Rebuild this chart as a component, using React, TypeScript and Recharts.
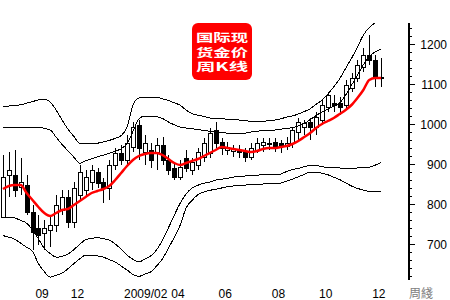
import React from "react";
import { Bar, ComposedChart, Line, XAxis, YAxis } from "recharts";

// weekly gold candles, 2008/09 .. 2009/12
const opens = [767, 872, 872, 842, 847, 780, 740, 727, 735, 747, 785, 817, 755, 822, 835, 855, 880, 855, 840, 897, 927, 910, 942, 997, 930, 935, 930, 947, 910, 890, 867, 915, 885, 897, 917, 927, 985, 955, 935, 932, 935, 932, 917, 935, 947, 952, 955, 952, 945, 952, 980, 992, 1005, 992, 1010, 1042, 1052, 1052, 1047, 1090, 1115, 1142, 1172, 1160, 1117];
const highs = [922, 930, 935, 915, 872, 797, 772, 760, 772, 822, 835, 835, 855, 897, 885, 897, 890, 865, 910, 940, 947, 972, 1005, 1010, 972, 952, 965, 967, 922, 905, 910, 935, 915, 940, 965, 990, 1005, 965, 955, 947, 947, 940, 952, 965, 965, 965, 965, 960, 967, 992, 1015, 1010, 1015, 1030, 1060, 1080, 1072, 1067, 1110, 1127, 1160, 1190, 1222, 1172, 1165];
const lows = [765, 817, 817, 822, 772, 685, 697, 685, 692, 730, 772, 740, 740, 810, 822, 835, 840, 802, 810, 885, 897, 897, 930, 910, 897, 890, 885, 897, 872, 860, 860, 880, 872, 885, 905, 915, 940, 922, 922, 917, 915, 905, 910, 927, 930, 935, 930, 927, 935, 940, 960, 972, 960, 972, 997, 1030, 1030, 1022, 1040, 1080, 1105, 1130, 1147, 1092, 1092];
const closes = [867, 885, 835, 855, 780, 730, 722, 740, 747, 797, 817, 755, 840, 880, 867, 885, 852, 840, 897, 927, 910, 952, 992, 940, 952, 910, 947, 910, 885, 867, 892, 890, 905, 930, 952, 977, 952, 940, 942, 937, 930, 917, 940, 952, 955, 950, 945, 945, 952, 985, 1005, 1002, 992, 1017, 1047, 1072, 1047, 1042, 1097, 1115, 1147, 1172, 1160, 1115, 1115];

const ma = [837.5, 845, 847.5, 847.5, 827.5, 810, 792.5, 777.5, 770, 777.5, 785, 787.5, 797.5, 807.5, 817.5, 827.5, 832.5, 837.5, 845, 860, 877.5, 895, 910, 920, 925, 927.5, 927.5, 922.5, 912.5, 902.5, 897.5, 902.5, 907.5, 912.5, 920, 927.5, 935, 942.5, 940, 937.5, 935, 932.5, 930, 932.5, 937.5, 940, 940, 942.5, 945, 950, 957.5, 967.5, 977.5, 990, 1000, 1007.5, 1015, 1025, 1035, 1047.5, 1065, 1085, 1110, 1115, 1115];
const upperOuter = [1043, 1045, 1046, 1048, 1052, 1056, 1060, 1062, 1055, 1035, 1010, 987, 969, 952, 951, 950, 952, 955, 959, 964, 971, 992, 1047, 1065, 1067, 1067, 1067, 1063, 1059, 1053, 1047, 1035, 1026, 1022, 1019, 1015, 1014, 1013, 1012, 1011, 1010, 1008, 1007, 1005, 1007, 1008, 1010, 1013, 1017, 1020, 1025, 1031, 1038, 1049, 1060, 1075, 1093, 1113, 1139, 1164, 1192, 1222, 1241, 1253, 1259];
const upperInner = [990, 991, 992, 992, 992, 992, 992, 989, 985, 967, 949, 933, 917, 902, 908, 913, 918, 922, 927, 932, 938, 951, 981, 1012, 1020, 1019, 1018, 1014, 1005, 998, 992, 990, 988, 986, 984, 982, 980, 979, 977, 976, 975, 977, 980, 982, 983, 984, 985, 987, 989, 991, 995, 1001, 1011, 1021, 1030, 1037, 1045, 1053, 1072, 1097, 1122, 1148, 1169, 1180, 1188];
const lowerInner = [767, 767, 765, 759, 752, 735, 713, 689, 676, 667, 669, 675, 686, 699, 711, 714, 716, 713, 710, 700, 687, 672, 662, 655, 662, 670, 685, 710, 740, 772, 802, 825, 840, 847, 852, 855, 860, 862, 864, 867, 870, 870, 871, 872, 873, 873, 874, 875, 881, 886, 889, 893, 896, 896, 893, 892, 891, 890, 890, 890, 890, 891, 892, 897, 904];
const lowerOuter = [721, 717, 712, 702, 692, 682, 651, 631, 617, 622, 627, 638, 651, 663, 672, 671, 670, 667, 661, 655, 645, 635, 624, 619, 625, 630, 645, 663, 689, 717, 747, 790, 809, 823, 830, 834, 837, 840, 843, 845, 846, 847, 849, 849, 850, 851, 851, 852, 857, 862, 868, 874, 880, 879, 877, 873, 867, 861, 853, 845, 839, 835, 831, 830, 832];

const xTickIndex = [6, 12, 21, 29, 37, 46, 54, 63];
const xTickText = ["09", "12", "2009/02", "04", "06", "08", "10", "12"];
const yLabels = [700, 800, 900, 1000, 1100, 1200];
const yTicks = [620, 640, 660, 680, 700, 720, 740, 760, 780, 800, 820, 840, 860, 880, 900, 920, 940, 960, 980, 1000, 1020, 1040, 1060, 1080, 1100, 1120, 1140, 1160, 1180, 1200, 1220, 1240];
const titleRows = ["国际现", "货金价", "周K线"];

const data = opens.map((o, i) => ({
  idx: i,
  open: o,
  high: highs[i],
  low: lows[i],
  close: closes[i],
  range: [lows[i], highs[i]],
  ma: ma[i],
  up2: upperOuter[i],
  up1: upperInner[i],
  lo1: lowerInner[i],
  lo2: lowerOuter[i],
}));

const font = "'Liberation Sans', Arial, sans-serif";

function Candle(props: any) {
  const { x, y, width, height, payload } = props;
  if (!payload) return <g />;
  const { open, close, high, low } = payload;
  const top = Math.min(y, y + height);
  const h = Math.abs(height);
  const cx = Math.round(x + width / 2) + 0.5;
  const ratio = h / (high - low || 1);
  const py = (v: number) => top + (high - v) * ratio;
  const bTop = Math.round(py(Math.max(open, close)));
  const bBot = Math.round(py(Math.min(open, close)));
  const up = close >= open;
  return (
    <g shapeRendering="crispEdges">
      <line x1={cx} x2={cx} y1={Math.round(top)} y2={Math.round(top + h)} stroke="#000" strokeWidth={1} />
      <rect x={cx - 2} y={bTop + 0.5} width={4} height={Math.max(bBot - bTop, 0)} fill={up ? "#fff" : "#000"} stroke="#000" strokeWidth={1} />
    </g>
  );
}

function XTick(props: any) {
  const { x, y, payload } = props;
  const k = xTickIndex.indexOf(payload.value);
  if (k < 0) return <g />;
  return (
    <text x={x - 3} y={y + 18} fontSize={12} fontFamily={font} fill="#000">
      {xTickText[k]}
    </text>
  );
}

function YTick(props: any) {
  const { x, y, payload } = props;
  const v = payload.value;
  const major = yLabels.includes(v);
  const yy = Math.round(y) + 0.5;
  return (
    <g>
      <line x1={x + 1} x2={x + (major ? 6 : 3)} y1={yy} y2={yy} stroke="#000" shapeRendering="crispEdges" />
      {major && (
        <text x={447} y={y + 4.5} textAnchor="end" fontSize={12} fontFamily={font} fill="#000">
          {v}
        </text>
      )}
    </g>
  );
}

export default function App() {
  return (
    <div style={{ position: "relative", width: 450, height: 300, background: "#fff" }}>
      <style>{"body{margin:0}"}</style>
      <ComposedChart width={450} height={300} data={data} margin={{ top: 23, right: 0, bottom: 0, left: 0 }} barCategoryGap={0}>
        <XAxis
          dataKey="idx"
          type="category"
          interval={0}
          axisLine={false}
          tickLine={false}
          tickSize={0}
          tickMargin={0}
          height={20}
          padding={{ left: 0, right: 25 }}
          tick={(p: any) => <XTick {...p} />}
        />
        <YAxis
          orientation="right"
          type="number"
          width={41}
          domain={[610, 1252.5]}
          allowDataOverflow
          ticks={yTicks}
          interval={0}
          tickLine={false}
          tickSize={0}
          tickMargin={0}
          axisLine={{ stroke: "#000", strokeWidth: 2 }}
          tick={(p: any) => <YTick {...p} />}
        />
        <Line dataKey="up2" type="monotone" stroke="#000" strokeWidth={1} dot={false} isAnimationActive={false} shapeRendering="crispEdges" />
        <Line dataKey="up1" type="monotone" stroke="#000" strokeWidth={1} dot={false} isAnimationActive={false} shapeRendering="crispEdges" />
        <Line dataKey="lo1" type="monotone" stroke="#000" strokeWidth={1} dot={false} isAnimationActive={false} shapeRendering="crispEdges" />
        <Line dataKey="lo2" type="monotone" stroke="#000" strokeWidth={1} dot={false} isAnimationActive={false} shapeRendering="crispEdges" />
        <Bar dataKey="range" shape={(p: any) => <Candle {...p} />} isAnimationActive={false} />
        <Line dataKey="ma" type="monotone" stroke="#ff0000" strokeWidth={2.5} dot={false} isAnimationActive={false} />
      </ComposedChart>
      <svg width={450} height={300} style={{ position: "absolute", left: 0, top: 0, pointerEvents: "none" }}>
        <rect x={192} y={23} width={60} height={57} rx={6} fill="#ff0000" />
        {titleRows.map((row, i) => (
          <text
            key={row}
            x={222}
            y={42 + i * 14.5}
            textAnchor="middle"
            fontSize={11.5}
            fontWeight="bold"
            fill="#fff"
            fontFamily="'Noto Sans CJK SC', sans-serif"
            textLength={52}
            lengthAdjust="spacingAndGlyphs"
          >
            {row}
          </text>
        ))}
        <text x={409} y={298} fontSize={12} fill="#808080" fontFamily="'Noto Sans CJK TC', sans-serif">
          周綫
        </text>
      </svg>
    </div>
  );
}
